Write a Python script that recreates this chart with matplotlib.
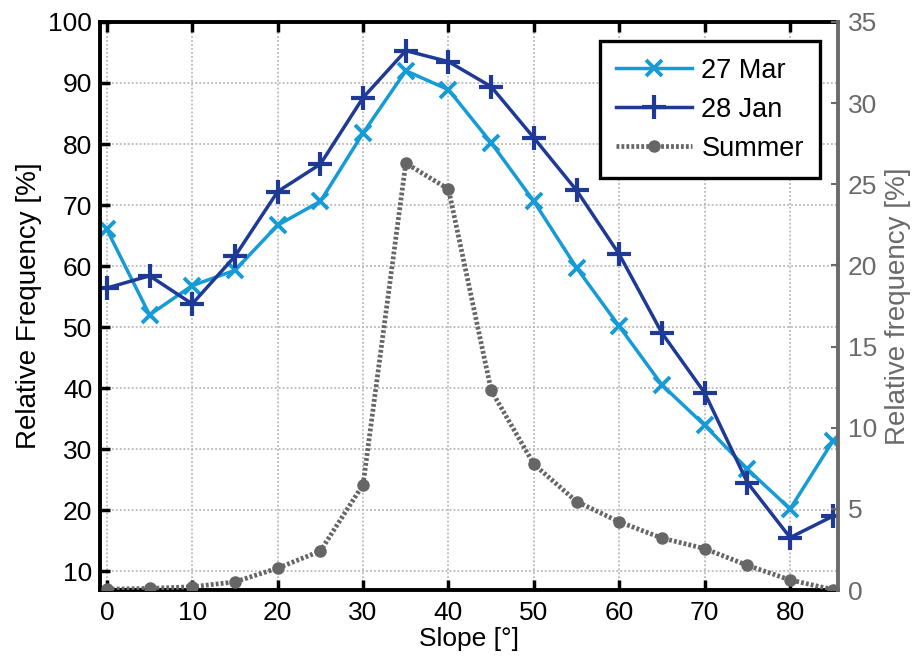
import matplotlib
matplotlib.use("Agg")
import matplotlib.pyplot as plt

plt.rcParams['font.family'] = ['Liberation Sans', 'DejaVu Sans']

slope = [0, 5, 10, 15, 20, 25, 30, 35, 40, 45, 50, 55, 60, 65, 70, 75, 80, 85]
mar27 = [66.0, 52.0, 56.8, 59.3, 66.7, 70.6, 81.8, 92.0, 88.9, 80.2, 70.6, 59.7,
         50.1, 40.5, 33.9, 26.7, 20.2, 31.3]
jan28 = [56.4, 58.4, 53.8, 61.6, 72.2, 76.7, 87.6, 95.3, 93.5, 89.4, 81.0, 72.4,
         61.9, 49.0, 39.2, 24.5, 15.5, 19.0]
summer = [0.05, 0.1, 0.2, 0.5, 1.35, 2.4, 6.5, 26.3, 24.7, 12.3, 7.75, 5.45,
          4.2, 3.2, 2.55, 1.52, 0.62, 0.03]

xticks = [0, 10, 20, 30, 40, 50, 60, 70, 80]
yticks_left = [10, 20, 30, 40, 50, 60, 70, 80, 90, 100]
yticks_right = [0, 5, 10, 15, 20, 25, 30, 35]

c_light = '#159bd5'
c_dark = '#1f3a96'
c_gray = '#666666'
c_axis_gray = '#6a6a6a'

fig = plt.figure(figsize=(9.15, 6.58), dpi=100)
ax = fig.add_axes([0.1093, 0.1033, 0.8065, 0.8633])

l1, = ax.plot(slope, mar27, color=c_light, lw=2.5, marker='x', ms=12, mew=2.8, label='27 Mar')
l2, = ax.plot(slope, jan28, color=c_dark, lw=2.5, marker='+', ms=17, mew=3.0, label='28 Jan')

ax.set_xlim(-0.8, 85.6)
ax.set_ylim(6.9, 100)
ax.set_xticks(xticks)
ax.set_yticks(yticks_left)
ax.grid(True, color='#b8b8b8', linestyle=(0, (1, 1.2)), linewidth=1.3)
ax.set_axisbelow(True)
ax.tick_params(axis='both', direction='in', length=7, width=2.5, labelsize=19,
               top=True, right=True, colors='black')
ax.tick_params(axis='x', pad=8)
ax.tick_params(axis='y', pad=5.5)
for s in ['left', 'bottom', 'top']:
    ax.spines[s].set_linewidth(2.8)
    ax.spines[s].set_color('black')
ax.spines['right'].set_visible(False)
ax.set_xlabel('Slope [°]', fontsize=19, labelpad=1)
ax.set_ylabel('Relative Frequency [%]', fontsize=20, labelpad=5)

ax2 = ax.twinx()
l3, = ax2.plot(slope, summer, color=c_gray, lw=3.4, linestyle=(0, (0.6, 0.45)),
               marker='o', ms=8, label='Summer')
ax2.set_ylim(0, 35)
ax2.set_yticks(yticks_right)
ax2.tick_params(axis='y', direction='in', length=5, width=1.5, labelsize=19,
                colors=c_axis_gray, pad=7)
ax2.spines['right'].set_color(c_axis_gray)
ax2.spines['right'].set_linewidth(2.8)
for s in ['left', 'bottom', 'top']:
    ax2.spines[s].set_visible(False)
ax2.set_ylabel('Relative frequency [%]', fontsize=20, color=c_axis_gray, labelpad=6)

leg = ax2.legend(handles=[l1, l2, l3], loc='upper right', bbox_to_anchor=(0.976, 0.966),
                 fontsize=19.5, frameon=True, fancybox=False, framealpha=1,
                 edgecolor='black', handlelength=2.8, borderpad=0.6,
                 labelspacing=0.48, handletextpad=0.35, borderaxespad=0)
leg.get_frame().set_linewidth(2.4)

fig.savefig('out.png', dpi=100)
